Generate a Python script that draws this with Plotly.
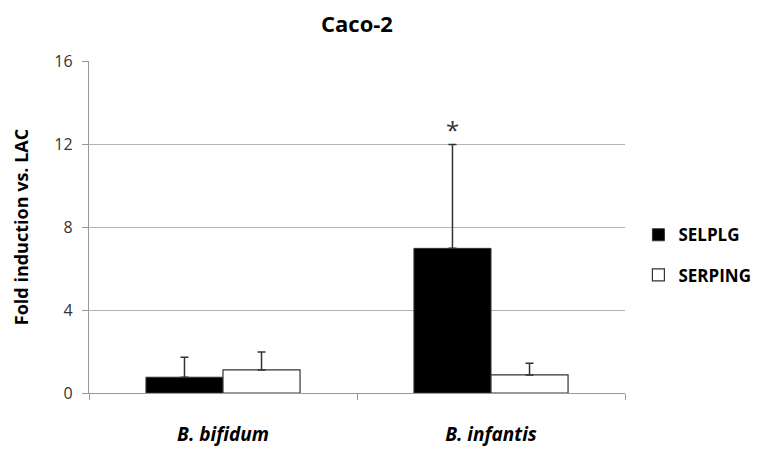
import plotly.graph_objects as go

categories = ["B. bifidum", "B. infantis"]
selplg = [0.76, 6.97]
selplg_err = [0.96, 5.0]
serping = [1.11, 0.87]
serping_err = [0.87, 0.56]
y_ticks = [0, 4, 8, 12, 16]

FONT = "'Open Sans', sans-serif"
bargap = 0.425
labels = [f"<b><i>{c}</i></b>" for c in categories]

# page is offset by 8px body margin; compensate
L, R, T, B = 81, 156, 53, 66

fig = go.Figure()
fig.add_trace(go.Bar(
    name="<b>SELPLG</b>", x=labels, y=selplg,
    marker=dict(color="black", line=dict(color="#333", width=1)),
    error_y=dict(type="data", array=selplg_err, symmetric=False, arrayminus=[0, 0],
                 color="#333", thickness=1.5, width=4),
    legendgroup="a",
))
fig.add_trace(go.Bar(
    name="<b>SERPING</b>", x=labels, y=serping,
    marker=dict(color="white", line=dict(color="#333", width=1.2)),
    error_y=dict(type="data", array=serping_err, symmetric=False, arrayminus=[0, 0],
                 color="#333", thickness=1.5, width=4),
    legendgroup="b",
))

# asterisk above B. infantis SELPLG
fig.add_annotation(x=1 - (1 - bargap) / 4, y=selplg[1] + selplg_err[1],
                   xref="x", yref="y", text="*", showarrow=False,
                   yanchor="bottom", yshift=-3,
                   font=dict(family=FONT, size=24, color="#333"))

fig.update_layout(
    width=773, height=451,
    margin=dict(l=L, r=R, t=T, b=B),
    paper_bgcolor="white", plot_bgcolor="white",
    barmode="group", bargap=bargap, bargroupgap=0,
    title=dict(text="<b>Caco-2</b>", x=(L + (773 - R)) / 2 / 773, xanchor="center",
               y=1 - 16 / 451, yanchor="middle",
               font=dict(family=FONT, size=22, color="black")),
    font=dict(family=FONT, color="#222"),
    legend=dict(x=1.025, y=0.415, xanchor="left", yanchor="middle",
                font=dict(family=FONT, size=17, color="black"),
                tracegroupgap=15, itemwidth=30),
    showlegend=True,
)
fig.update_yaxes(
    range=[0, 16], tickvals=y_ticks, showgrid=True, gridcolor="#b4b4b4", gridwidth=1.3,
    showline=True, linecolor="#999", linewidth=1.3, ticks="outside", ticklen=6,
    tickcolor="#999", tickfont=dict(family=FONT, size=16, color="#333"),
    ticklabelstandoff=6,
    title=dict(text="<b>Fold induction vs. LAC</b>", font=dict(family=FONT, size=18, color="black"),
               standoff=21),
    zeroline=False,
)
fig.update_xaxes(
    showline=True, linecolor="#999", linewidth=1.3, ticks="outside", tickson="boundaries",
    ticklen=6, tickcolor="#999", tickfont=dict(family=FONT, size=19, color="black"),
    ticklabelstandoff=24,
)

fig.write_html("out.html")
